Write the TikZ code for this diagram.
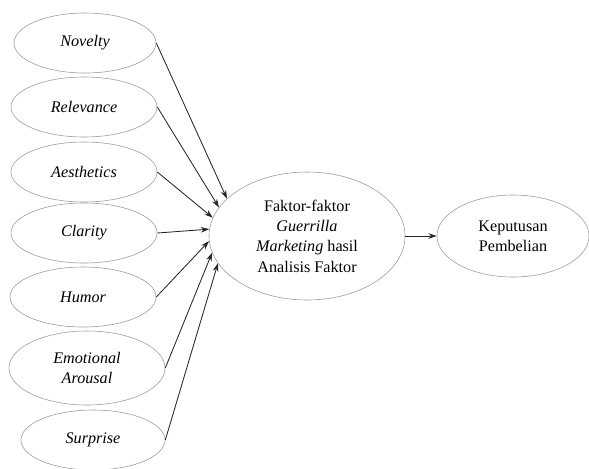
\documentclass[tikz,border=0pt]{standalone}
\usepackage{fontspec}
\setmainfont{Liberation Serif}
\usetikzlibrary{shapes.geometric,arrows.meta}

\begin{document}
\begin{tikzpicture}[x=0.025cm,y=-0.025cm,
  varbox/.style={ellipse,draw=gray!80,fill=white,thin,minimum width=3.55cm,minimum height=1.5cm,inner sep=0pt,align=center,font=\fontsize{11.5}{14.5}\selectfont\itshape},
  link/.style={-{Stealth[length=6pt,width=4pt]},semithick,black!85}]
\useasboundingbox (0,0) rectangle (589,468);

\node (N) at (85,43) [varbox]{Novelty};
\node (R) at (84,107) [varbox, minimum width=3.65cm]{Relevance};
\node (A) at (84,172) [varbox, minimum width=3.65cm]{Aesthetics};
\node (C) at (84,233) [varbox, minimum width=3.65cm]{Clarity};
\node (H) at (83,297) [varbox, minimum width=3.65cm]{Humor};
\node (E) at (87,368) [varbox, minimum width=3.9cm, minimum height=1.85cm]{Emotional\\Arousal};
\node (S) at (93,440) [varbox, minimum width=3.6cm]{Surprise};

\node (F) at (307,236) [varbox, font=\fontsize{11.5}{14.5}\selectfont, minimum width=4.9cm, minimum height=3.2cm]{Faktor-faktor\\\textit{Guerrilla}\\\textit{Marketing} hasil\\Analisis Faktor};

\node (K) at (513,236) [varbox, font=\fontsize{11.5}{14.5}\selectfont, minimum width=3.8cm, minimum height=2.05cm]{Keputusan\\Pembelian};

\draw [link] (N.east) -- (F.155);
\draw [link] (R.east) -- (F.162);
\draw [link] (A.east) -- (F.169);
\draw [link] (C.east) -- (F.176);
\draw [link] (H.east) -- (F.183);
\draw [link] (E.east) -- (F.190);
\draw [link] (S.east) -- (F.197);

\draw [link] (F) -- (K);

\end{tikzpicture}
\end{document}
